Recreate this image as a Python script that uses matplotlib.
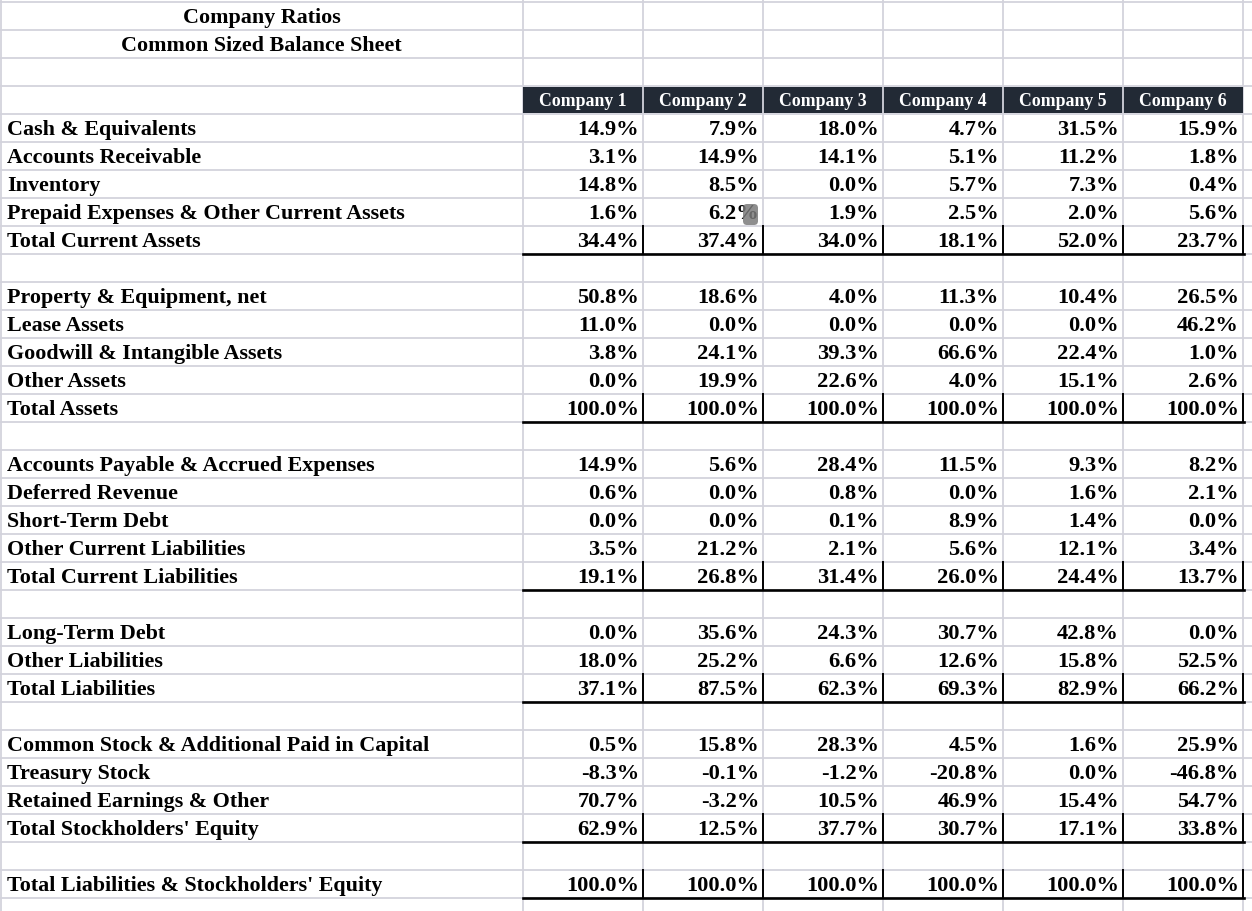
import matplotlib.pyplot as plt
import matplotlib.patches as patches

# Etiquetas de filas ("" = fila vacía)
row_labels = [
    "Cash & Equivalents", "Accounts Receivable", "Inventory",
    "Prepaid Expenses & Other Current Assets", "Total Current Assets", "",
    "Property & Equipment, net", "Lease Assets", "Goodwill & Intangible Assets",
    "Other Assets", "Total Assets", "",
    "Accounts Payable & Accrued Expenses", "Deferred Revenue", "Short-Term Debt",
    "Other Current Liabilities", "Total Current Liabilities", "",
    "Long-Term Debt", "Other Liabilities", "Total Liabilities", "",
    "Common Stock & Additional Paid in Capital", "Treasury Stock",
    "Retained Earnings & Other", "Total Stockholders' Equity", "",
    "Total Liabilities & Stockholders' Equity",
]
total_rows = ["Total Current Assets", "Total Assets", "Total Current Liabilities",
              "Total Liabilities", "Total Stockholders' Equity",
              "Total Liabilities & Stockholders' Equity"]

companies = ["Company 1", "Company 2", "Company 3", "Company 4", "Company 5", "Company 6"]

company_1 = [14.9, 3.1, 14.8, 1.6, 34.4, None, 50.8, 11.0, 3.8, 0.0, 100.0, None,
             14.9, 0.6, 0.0, 3.5, 19.1, None, 0.0, 18.0, 37.1, None,
             0.5, -8.3, 70.7, 62.9, None, 100.0]
company_2 = [7.9, 14.9, 8.5, 6.2, 37.4, None, 18.6, 0.0, 24.1, 19.9, 100.0, None,
             5.6, 0.0, 0.0, 21.2, 26.8, None, 35.6, 25.2, 87.5, None,
             15.8, -0.1, -3.2, 12.5, None, 100.0]
company_3 = [18.0, 14.1, 0.0, 1.9, 34.0, None, 4.0, 0.0, 39.3, 22.6, 100.0, None,
             28.4, 0.8, 0.1, 2.1, 31.4, None, 24.3, 6.6, 62.3, None,
             28.3, -1.2, 10.5, 37.7, None, 100.0]
company_4 = [4.7, 5.1, 5.7, 2.5, 18.1, None, 11.3, 0.0, 66.6, 4.0, 100.0, None,
             11.5, 0.0, 8.9, 5.6, 26.0, None, 30.7, 12.6, 69.3, None,
             4.5, -20.8, 46.9, 30.7, None, 100.0]
company_5 = [31.5, 11.2, 7.3, 2.0, 52.0, None, 10.4, 0.0, 22.4, 15.1, 100.0, None,
             9.3, 1.6, 1.4, 12.1, 24.4, None, 42.8, 15.8, 82.9, None,
             1.6, 0.0, 15.4, 17.1, None, 100.0]
company_6 = [15.9, 1.8, 0.4, 5.6, 23.7, None, 26.5, 46.2, 1.0, 2.6, 100.0, None,
             8.2, 2.1, 0.0, 3.4, 13.7, None, 0.0, 52.5, 66.2, None,
             25.9, -46.8, 54.7, 33.8, None, 100.0]
valores = [company_1, company_2, company_3, company_4, company_5, company_6]

# Geometría de la hoja (en píxeles)
W, H = 1252, 912
top = 3
row_h = 28
first_data_row = 4
col0_w = 523
col_w = 120
gris = "#d3d3dc"
navy = "#222a35"
fuente = "Liberation Serif"

fig = plt.figure(figsize=(W / 100, H / 100), dpi=100)
ax = fig.add_axes([0, 0, 1, 1])
ax.set_xlim(0, W)
ax.set_ylim(H, 0)
ax.axis("off")

n_rows = first_data_row + len(row_labels) + 1

# Cuadrícula gris
for k in range(n_rows + 1):
    y = top + k * row_h
    ax.plot([0, W], [y, y], color=gris, lw=1.3, zorder=1)
xs = [1, col0_w] + [col0_w + (j + 1) * col_w for j in range(len(companies))]
for x in xs:
    ax.plot([x, x], [0, H], color=gris, lw=1.3, zorder=1)

# Títulos
ax.text(col0_w / 2, top + 0.5 * row_h + 1, "Company Ratios", ha="center", va="center",
        fontsize=15.8, fontweight="bold", family=fuente, zorder=3)
ax.text(col0_w / 2, top + 1.5 * row_h + 1, "Common Sized Balance Sheet", ha="center", va="center",
        fontsize=15.8, fontweight="bold", family=fuente, zorder=3)

# Encabezado
yh = top + 3 * row_h
for j, nombre in enumerate(companies):
    x0 = col0_w + j * col_w
    ax.add_patch(patches.Rectangle((x0, yh + 1), col_w, row_h - 2, facecolor=navy,
                                   edgecolor="none", zorder=2))
    if j > 0:
        ax.plot([x0, x0], [yh + 1, yh + row_h - 1], color=gris, lw=1.3, zorder=2.5)
    ax.text(x0 + col_w / 2, yh + row_h / 2 + 1, nombre, ha="center", va="center",
            color="white", fontsize=12.8, fontweight="bold", family=fuente, zorder=3)

# Filas de datos
for i, etiqueta in enumerate(row_labels):
    y0 = top + (first_data_row + i) * row_h
    yc = y0 + row_h / 2 + 1
    if etiqueta:
        ax.text(7, yc, etiqueta, ha="left", va="center", fontsize=15.8,
                fontweight="bold", family=fuente, zorder=3)
    es_total = etiqueta in total_rows
    for j, serie in enumerate(valores):
        v = serie[i]
        if v is None:
            continue
        x_der = col0_w + (j + 1) * col_w
        ax.text(x_der - 4, yc, f"{v:.1f}%", ha="right", va="center", fontsize=16.2,
                fontweight="bold", family=fuente, zorder=3)
        if es_total:
            ax.plot([x_der, x_der], [y0, y0 + row_h], color="black", lw=1.4, zorder=4)
    if es_total:
        ax.plot([col0_w, col0_w + len(companies) * col_w + 1],
                [y0 + row_h, y0 + row_h], color="black", lw=1.9, zorder=4)

# Indicador de comentario en la celda de Company 2 (Prepaid Expenses)
i_com = row_labels.index("Prepaid Expenses & Other Current Assets")
y_com = top + (first_data_row + i_com) * row_h
x_com = col0_w + 2 * col_w
ax.add_patch(patches.FancyBboxPatch((x_com - 20, y_com + 6), 15, 21,
                                    boxstyle="round,pad=0,rounding_size=4",
                                    facecolor="#7a7a7a", edgecolor="none", alpha=0.85, zorder=5))

fig.savefig("out.png", dpi=100)
